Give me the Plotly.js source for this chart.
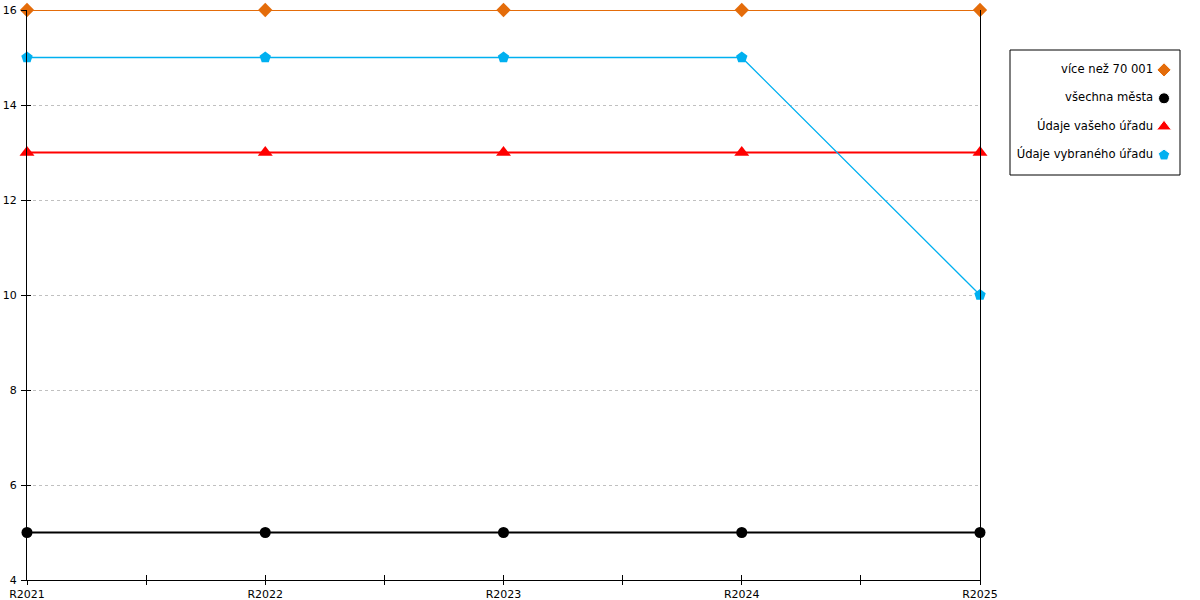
<!DOCTYPE html>
<html>
<head>
<meta charset="utf-8">
<script src="https://cdn.plot.ly/plotly-3.0.1.min.js"></script>
<style>html,body{margin:0;padding:0;background:#fff}#chart{width:1200px;height:600px}</style>
</head>
<body>
<div id="chart"></div>
<script>
const categories = ['R2021', 'R2022', 'R2023', 'R2024', 'R2025'];
const seriesNames = ['více než 70 001', 'všechna města', 'Údaje vašeho úřadu', 'Údaje vybraného úřadu'];
const over70001 = [16, 16, 16, 16, 16];
const allCities = [5, 5, 5, 5, 5];
const yourOffice = [13, 13, 13, 13, 13];
const selectedOffice = [15, 15, 15, 15, 10];
const yTicks = [4, 6, 8, 10, 12, 14, 16];

const seriesValues = [over70001, allCities, yourOffice, selectedOffice];
const colors = ['#E46C0A', '#000000', '#FF0000', '#00B0F0'];
const symbols = ['diamond', 'circle', 'triangle-up', 'pentagon'];
const msizes = [11, 11, 13, 12];
const lwidths = [2, 2, 2, 1.3];

const xIdx = categories.map((c, i) => i);
const tickVals = [];
const tickText = [];
categories.forEach((c, i) => {
  tickVals.push(i); tickText.push(c);
  if (i < categories.length - 1) { tickVals.push(i + 0.5); tickText.push(''); }
});

const font = {family: 'DejaVu Sans, sans-serif', size: 11, color: '#000'};
const legFont = {family: 'DejaVu Sans, sans-serif', size: 11.6, color: '#000'};

const traces = seriesValues.map((vals, k) => ({
  type: 'scatter', mode: 'lines+markers',
  x: xIdx, y: vals, name: seriesNames[k],
  line: {color: colors[k], width: lwidths[k]},
  marker: {symbol: symbols[k], size: msizes[k], color: colors[k], opacity: 1},
  showlegend: false, cliponaxis: false, hoverinfo: 'x+y'
}));

// helper trace to draw inside halves of ticks
traces.push({type: 'scatter', x: [], y: [], xaxis: 'x3', yaxis: 'y3', showlegend: false});

// custom legend: text right-aligned, marker to the right of text
traces.push({
  type: 'scatter', mode: 'text',
  xaxis: 'x2', yaxis: 'y2',
  x: seriesNames.map(() => 0.842), y: seriesNames,
  text: seriesNames, textposition: 'middle left',
  textfont: legFont,
  showlegend: false, hoverinfo: 'skip', cliponaxis: false
});
traces.push({
  type: 'scatter', mode: 'markers',
  xaxis: 'x2', yaxis: 'y2',
  x: seriesNames.map(() => 0.906), y: seriesNames,
  marker: {symbol: symbols, size: msizes, color: colors, opacity: 1},
  showlegend: false, hoverinfo: 'skip', cliponaxis: false
});

const mainDomain = [0, 953 / 1153];
const legX = [(1010 - 27) / 1153, (1180 - 27) / 1153];
const legY = [(580 - 175) / 570, (580 - 50) / 570];

const layout = {
  width: 1200, height: 600,
  margin: {l: 27, r: 20, t: 10, b: 20},
  paper_bgcolor: '#fff', plot_bgcolor: '#fff',
  font: font,
  showlegend: false,
  xaxis: {
    domain: mainDomain, range: [0, categories.length - 1],
    tickmode: 'array', tickvals: tickVals, ticktext: tickText,
    ticks: 'outside', ticklen: 4, tickcolor: '#000', tickwidth: 1,
    showline: true, linecolor: '#000', linewidth: 1,
    showgrid: false, zeroline: false, fixedrange: true,
    tickfont: font, ticklabelstandoff: 0
  },
  yaxis: {
    range: [4, 16], tickmode: 'array', tickvals: yTicks,
    ticks: 'outside', ticklen: 5, tickcolor: '#000', tickwidth: 1,
    showline: true, mirror: true, linecolor: '#000', linewidth: 1,
    showgrid: true, gridcolor: '#C0C0C0', griddash: 'dot', gridwidth: 1,
    zeroline: false, fixedrange: true, tickfont: font, ticklabelstandoff: 2
  },
  xaxis3: {
    overlaying: 'x', anchor: 'y3', side: 'bottom', domain: mainDomain,
    range: [0, categories.length - 1], tickmode: 'array', tickvals: tickVals,
    ticks: 'inside', ticklen: 5, tickcolor: '#000', showticklabels: false,
    showline: false, showgrid: false, zeroline: false
  },
  yaxis3: {
    overlaying: 'y', anchor: 'x3', side: 'left',
    range: [4, 16], tickmode: 'array', tickvals: yTicks,
    ticks: 'inside', ticklen: 4, tickcolor: '#000', showticklabels: false,
    showline: false, showgrid: false, zeroline: false
  },
  xaxis2: {
    domain: legX, range: [0, 1], anchor: 'y2',
    visible: false, fixedrange: true
  },
  yaxis2: {
    domain: legY, anchor: 'x2', type: 'category',
    categoryorder: 'array', categoryarray: seriesNames,
    range: [3.7, -0.7], visible: false, fixedrange: true
  },
  shapes: [{
    type: 'rect', xref: 'x2 domain', yref: 'y2 domain',
    x0: 0, x1: 1, y0: 0, y1: 1,
    line: {color: '#000', width: 1}, fillcolor: 'rgba(0,0,0,0)'
  }]
};

Plotly.newPlot('chart', traces, layout, {displayModeBar: false, staticPlot: true});
</script>
</body>
</html>
